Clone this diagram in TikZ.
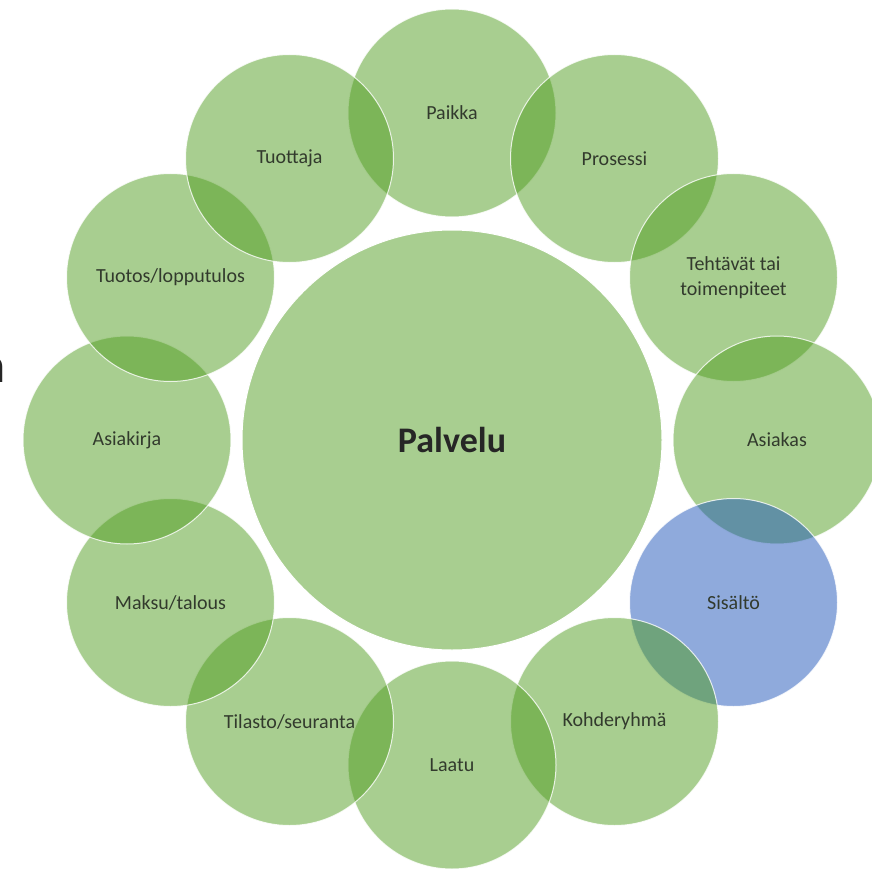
\documentclass[tikz,border=0pt]{standalone}
\usepackage{fontspec}
\setmainfont{Carlito}
\definecolor{gbase}{RGB}{81,157,33}
\definecolor{bbase}{RGB}{31,85,185}
\definecolor{txt}{RGB}{50,58,45}
\begin{document}
\begin{tikzpicture}[x=1pt,y=-1pt,
  petal/.style={circle,minimum size=208pt,inner sep=0pt,fill=gbase,fill opacity=0.5,text opacity=1,
    draw=white,draw opacity=0.8,line width=1pt,text=txt,font=\fontsize{20}{25}\selectfont,align=center},
  bluepetal/.style={petal,fill=bbase},
  hub/.style={circle,minimum size=420pt,inner sep=0pt,fill=gbase,fill opacity=0.5,text opacity=1,
    draw=white,line width=1pt,text=black!85,font=\fontsize{36}{42}\selectfont\bfseries}]
\useasboundingbox (0,0) rectangle (872,869);
\node[hub] (palvelu) at (452,440) {Palvelu};
\node[petal] (paikka) at (452,113) {Paikka};
\node[petal] (prosessi) at (614.5,158.5) {Prosessi};
\node[petal] (tehtavat) at (733.5,277.5) {Tehtävät tai\\toimenpiteet};
\node[petal] (asiakas) at (777,440) {Asiakas};
\node[bluepetal] (sisalto) at (733.5,602.5) {Sisältö};
\node[petal] (kohderyhma) at (614.5,721.5) {Kohderyhmä};
\node[petal] (laatu) at (452,765) {Laatu};
\node[petal] (tilasto) at (289.5,721.5) {Tilasto/seuranta};
\node[petal] (maksu) at (170.5,602.5) {Maksu/talous};
\node[petal] (asiakirja) at (127,440) {Asiakirja};
\node[petal] (tuotos) at (170.5,277.5) {Tuotos/lopputulos};
\node[petal] (tuottaja) at (289.5,158.5) {Tuottaja};
\node[anchor=base east,inner sep=0pt,font=\fontsize{50}{60}\selectfont\bfseries,text=black!85] (n) at (6,382) {n};
\end{tikzpicture}
\end{document}
